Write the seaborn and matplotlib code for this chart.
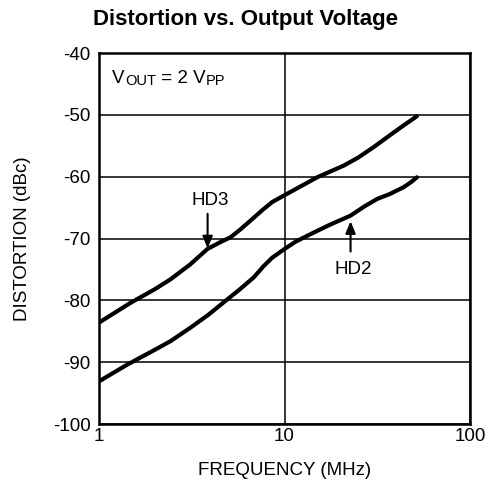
import matplotlib
matplotlib.use("Agg")
import matplotlib.pyplot as plt
import seaborn as sns
import pandas as pd

# Data
hd3_freq = [1.0, 1.48, 2.0, 2.43, 3.1, 3.84, 4.5, 5.12, 5.8, 6.56, 7.6, 8.59, 10.0, 12.0, 15.0, 20.9, 25.0, 30.3, 37.0, 43.9, 48.0, 51.8]
hd3_dist = [-83.6, -80.4, -78.2, -76.6, -74.2, -71.7, -70.6, -69.8, -68.5, -67.1, -65.4, -64.1, -63.0, -61.7, -60.1, -58.2, -56.9, -55.2, -53.3, -51.7, -50.9, -50.2]
hd2_freq = [1.0, 1.42, 2.0, 2.43, 3.12, 3.9, 4.71, 5.7, 6.82, 7.7, 8.59, 10.0, 11.5, 13.8, 17.5, 22.7, 27.0, 31.6, 37.0, 43.9, 48.0, 51.8]
hd2_dist = [-93.1, -90.4, -88.0, -86.6, -84.4, -82.3, -80.3, -78.3, -76.3, -74.5, -73.1, -71.7, -70.5, -69.3, -67.8, -66.3, -64.8, -63.6, -62.8, -61.7, -60.9, -60.1]

x_ticks = [1, 10, 100]
x_tick_labels = ["1", "10", "100"]
y_ticks = [-100, -90, -80, -70, -60, -50, -40]

df = pd.concat([
    pd.DataFrame({"freq": hd3_freq, "dist": hd3_dist, "series": "HD3"}),
    pd.DataFrame({"freq": hd2_freq, "dist": hd2_dist, "series": "HD2"}),
])

sns.set_theme(style="white")
plt.rcParams["font.family"] = ["Liberation Sans", "DejaVu Sans"]

fig = plt.figure(figsize=(4.91, 4.90), dpi=100)
ax = fig.add_axes([99 / 491, 1 - 424 / 490, (470 - 99) / 491, (424 - 53) / 490])

sns.lineplot(data=df, x="freq", y="dist", units="series", estimator=None,
             color="black", linewidth=3.0, ax=ax, legend=False, sort=True)

ax.set_xscale("log")
ax.set_xlim(1, 100)
ax.set_ylim(-100, -40)
ax.set_xticks(x_ticks)
ax.set_xticklabels(x_tick_labels)
ax.set_yticks(y_ticks)
ax.set_yticklabels([str(v) for v in y_ticks])
ax.xaxis.set_minor_locator(matplotlib.ticker.NullLocator())
ax.tick_params(axis="both", length=0, labelsize=13.5, colors="black")
ax.tick_params(axis="y", pad=6)
ax.tick_params(axis="x", pad=3)
ax.grid(True, which="major", color="black", linewidth=1.1)

for s in ax.spines.values():
    s.set_color("black")
    s.set_linewidth(1.8)

ax.set_xlabel("FREQUENCY (MHz)", fontsize=13.5, color="black", labelpad=12)
ax.set_ylabel("DISTORTION (dBc)", fontsize=13.5, color="black", labelpad=16)

fig.text(246 / 491, 1 - 19 / 490, "Distortion vs. Output Voltage", ha="center", va="center",
         fontsize=16, fontweight="bold", color="black")

# V_OUT = 2 V_PP, with large, slightly lowered subscripts
t1 = ax.text(1.175, -44.8, "V", fontsize=13.5, ha="left", va="baseline", color="black")
t2 = ax.annotate("OUT", xy=(1, 0), xycoords=t1, xytext=(0.3, -0.8), textcoords="offset points",
                 fontsize=10.5, ha="left", va="bottom", color="black")
t3 = ax.annotate(" = 2 V", xy=(1, 0), xycoords=t2, xytext=(0, 0.8), textcoords="offset points",
                 fontsize=13.5, ha="left", va="bottom", color="black")
t4 = ax.annotate("PP", xy=(1, 0), xycoords=t3, xytext=(0.3, -0.8), textcoords="offset points",
                 fontsize=10.5, ha="left", va="bottom", color="black")

arrow_kw = dict(arrowstyle="-|>,head_length=0.6,head_width=0.25", color="black", lw=1.5,
                mutation_scale=12, shrinkA=0, shrinkB=0)
ax.annotate("", xy=(3.85, -71.6), xytext=(3.85, -66.0), arrowprops=arrow_kw)
ax.text(4.0, -63.9, "HD3", fontsize=13.5, ha="center", va="center", color="black")

ax.annotate("", xy=(22.7, -67.2), xytext=(22.7, -72.1), arrowprops=arrow_kw)
ax.text(23.5, -75.0, "HD2", fontsize=13.5, ha="center", va="center", color="black")

fig.savefig("out.png", dpi=100)
